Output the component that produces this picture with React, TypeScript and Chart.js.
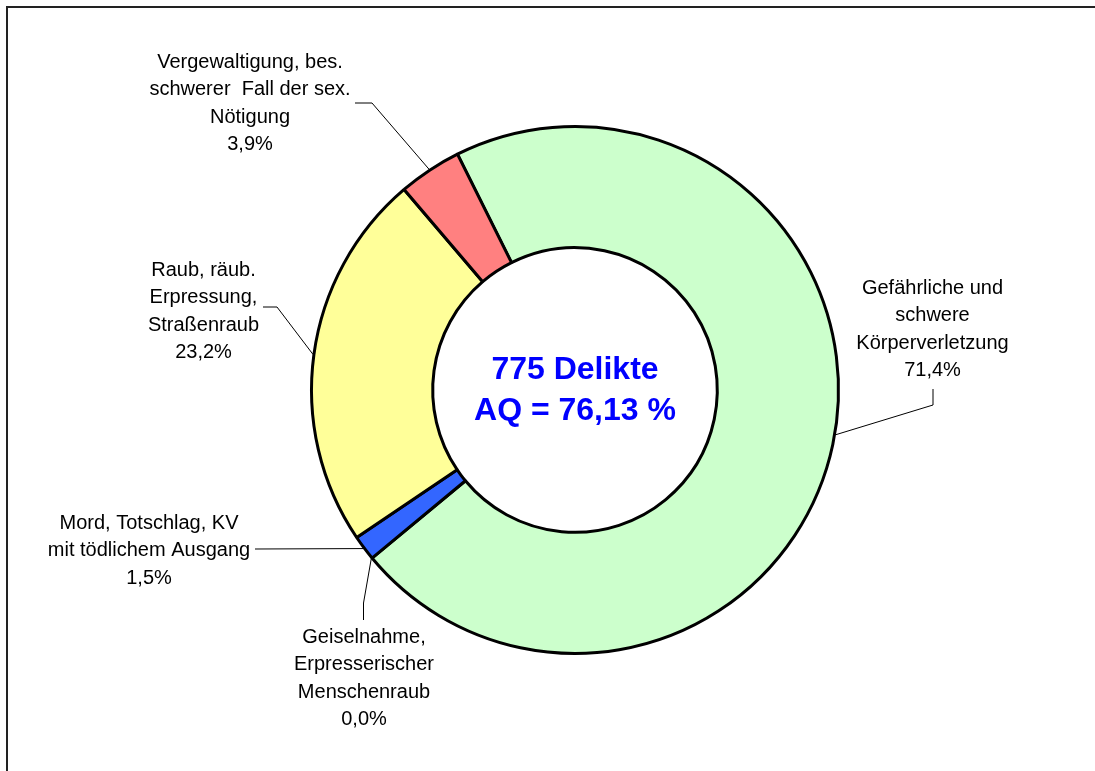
import React, { useEffect, useRef } from "react";
import { Chart, registerables } from "chart.js";

Chart.register(...registerables);

// ---- Data ----
const categories: string[][] = [
  ["Gefährliche und", "schwere", "Körperverletzung"],
  ["Geiselnahme,", "Erpresserischer", "Menschenraub"],
  ["Mord, Totschlag, KV", "mit tödlichem Ausgang"],
  ["Raub, räub.", "Erpressung,", "Straßenraub"],
  ["Vergewaltigung, bes.", "schwerer  Fall der sex.", "Nötigung"],
];
const counts: number[] = [553, 0, 12, 180, 30];
const centerLines: string[] = ["775 Delikte", "AQ = 76,13 %"];

// ---- Styles / layout ----
const sliceColors = ["#CCFFCC", "#993366", "#3366FF", "#FFFF99", "#FF8080"];
const labelFont = '20px "Liberation Sans", Arial, sans-serif';
const centerFont = 'bold 32px "Liberation Sans", Arial, sans-serif';
const lineHeight = 27.5;
// label text centre x, first line y, leader line points (ending at the slice edge), anchor angle shift (deg)
const labelLayout = [
  { cx: 932.5, y0: 288, leader: [[933, 389], [933, 405]], shift: -2.2 },
  { cx: 364, y0: 637, leader: [[363.5, 620], [363.5, 603]], shift: 0 },
  { cx: 149, y0: 523, leader: [[255, 549]], shift: 0 },
  { cx: 203.5, y0: 270, leader: [[263, 307], [277, 307]], shift: 0 },
  { cx: 250, y0: 62, leader: [[355, 103], [372, 103]], shift: 0 },
];

const pctText = (v: number, total: number) =>
  ((v / total) * 100).toFixed(1).replace(".", ",") + "%";

const labelsPlugin = {
  id: "customLabels",
  afterDraw(chart: any) {
    const ctx = chart.ctx as CanvasRenderingContext2D;
    const meta = chart.getDatasetMeta(0);
    const data = chart.data.datasets[0].data as number[];
    const total = data.reduce((a, b) => a + b, 0);

    // frame
    ctx.save();
    ctx.strokeStyle = "#222";
    ctx.lineWidth = 2;
    ctx.strokeRect(7, 7, 3000, 3000);
    ctx.restore();

    meta.data.forEach((arc: any, i: number) => {
      const p = arc.getProps(["x", "y", "startAngle", "endAngle", "outerRadius"], true);
      const lay = labelLayout[i];
      const mid = (p.startAngle + p.endAngle) / 2 + (lay.shift * Math.PI) / 180;
      const ax = p.x + Math.cos(mid) * (p.outerRadius + 1);
      const ay = p.y + Math.sin(mid) * (p.outerRadius + 1);

      ctx.save();
      ctx.strokeStyle = "#000";
      ctx.lineWidth = 1;
      ctx.beginPath();
      ctx.moveTo(lay.leader[0][0], lay.leader[0][1]);
      for (let k = 1; k < lay.leader.length; k++) ctx.lineTo(lay.leader[k][0], lay.leader[k][1]);
      ctx.lineTo(ax, ay);
      ctx.stroke();

      ctx.fillStyle = "#000";
      ctx.font = labelFont;
      ctx.textAlign = "center";
      ctx.textBaseline = "middle";
      const lines = [...categories[i], pctText(data[i], total)];
      lines.forEach((t, k) => ctx.fillText(t, lay.cx, lay.y0 + k * lineHeight));
      ctx.restore();
    });

    const a0 = meta.data[0];
    if (a0) {
      ctx.save();
      ctx.fillStyle = "#0000FF";
      ctx.font = centerFont;
      ctx.textAlign = "center";
      ctx.textBaseline = "middle";
      ctx.fillText(centerLines[0], a0.x, a0.y - 20);
      ctx.fillText(centerLines[1], a0.x, a0.y + 21);
      ctx.restore();
    }
  },
};

export default function App() {
  const ref = useRef<HTMLCanvasElement | null>(null);
  useEffect(() => {
    if (!ref.current) return;
    const chart = new Chart(ref.current, {
      type: "doughnut",
      data: {
        labels: categories.map((c) => c.join(" ")),
        datasets: [
          {
            data: counts,
            backgroundColor: sliceColors,
            borderColor: "#000",
            borderWidth: 3,
            hoverBorderWidth: 3,
          },
        ],
      },
      options: {
        responsive: false,
        animation: false,
        devicePixelRatio: 1,
        rotation: -26.5,
        cutout: "54%",
        layout: { padding: { left: 310, right: 255, top: 125, bottom: 116 } },
        plugins: { legend: { display: false }, tooltip: { enabled: false } },
        events: [],
      },
      plugins: [labelsPlugin],
    });
    return () => chart.destroy();
  }, []);
  return (
    <div style={{ position: "fixed", left: 0, top: 0, width: 1095, height: 771, background: "#fff" }}>
      <canvas ref={ref} width={1095} height={771} />
    </div>
  );
}
